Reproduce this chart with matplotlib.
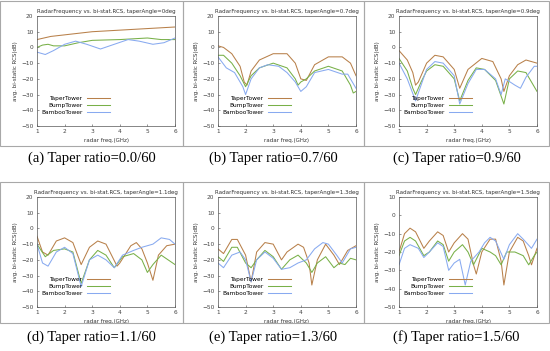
import matplotlib
matplotlib.use('Agg')
import matplotlib.pyplot as plt
from matplotlib.patches import Rectangle

# Data: (freq GHz, avg bi-static RCS dB) per tower ----------------------------
# (a) taperAngle=0deg
taper_a = ([1, 1.5, 2, 3, 4, 5, 6], [5, 7, 8, 10, 11, 12, 13])
bump_a = ([1, 1.2, 1.4, 1.6, 2, 2.5, 3, 4, 5, 5.5, 6], [0, 1.5, 2, 1, 1, 3, 4.5, 5, 6, 5, 5])
bamboo_a = ([1, 1.3, 1.6, 2, 2.4, 2.8, 3.3, 3.8, 4.3, 4.7, 5.2, 5.6, 6],
            [-3, -4.5, -2, 2, 4, 2, -1, 2, 5, 4, 2, 3, 6])

# (b) taperAngle=0.7deg
taper_b = ([1, 1.2, 1.5, 1.8, 1.95, 2.05, 2.2, 2.5, 3, 3.5, 3.8, 4.0, 4.2, 4.5, 5, 5.5, 5.8, 6],
           [1, 0, -4, -12, -22, -24, -15, -8, -4, -4, -10, -20, -21, -11, -6, -6, -10, -18])
bump_b = ([1, 1.2, 1.5, 1.8, 2.0, 2.2, 2.5, 3, 3.5, 3.8, 3.9, 4.0, 4.2, 4.5, 5, 5.5, 5.8, 5.9, 6],
          [-5, -5, -10, -18, -25, -18, -13, -10, -13, -20, -24, -22, -20, -15, -12, -15, -24, -29, -28])
bamboo_b = ([1, 1.3, 1.6, 1.9, 2.0, 2.2, 2.5, 2.8, 3.2, 3.5, 3.8, 4.0, 4.2, 4.5, 5, 5.5, 5.7, 6],
            [-6, -13, -16, -25, -30, -20, -13, -11, -12, -16, -22, -28, -25, -16, -14, -17, -17, -26])

# (c) taperAngle=0.9deg
taper_c = ([1, 1.3, 1.5, 1.6, 1.7, 2, 2.3, 2.6, 3, 3.2, 3.5, 4, 4.4, 4.7, 4.8, 5, 5.3, 5.6, 6],
           [-2, -8, -16, -24, -22, -10, -5, -6, -14, -26, -14, -7, -9, -20, -28, -18, -11, -8, -10])
bump_c = ([1, 1.3, 1.5, 1.6, 1.8, 2, 2.3, 2.6, 3, 3.2, 3.5, 3.8, 4.1, 4.5, 4.8, 5, 5.3, 5.6, 6],
          [-7, -15, -26, -30, -22, -15, -11, -12, -20, -34, -21, -13, -14, -21, -36, -20, -15, -16, -28])
bamboo_c = ([1, 1.3, 1.6, 1.8, 2, 2.3, 2.6, 3, 3.2, 3.5, 3.8, 4.1, 4.5, 4.7, 4.85, 5.2, 5.4, 5.6, 5.9, 6],
            [-10, -20, -34, -24, -14, -9, -10, -18, -36, -23, -14, -14, -20, -30, -20, -24, -26, -19, -12, -12])

# (d) taperAngle=1.1deg
taper_d = ([1, 1.2, 1.4, 1.7, 2, 2.3, 2.6, 2.9, 3.2, 3.5, 3.9, 4.0, 4.4, 4.6, 4.8, 5.0, 5.2, 5.4, 5.7, 6],
           [-5, -15, -17, -8, -6, -9, -23, -12, -8, -10, -24, -22, -11, -9, -13, -22, -33, -17, -11, -10])
bump_d = ([1, 1.3, 1.6, 2, 2.3, 2.6, 2.9, 3.2, 3.5, 3.8, 4.1, 4.5, 4.8, 5.0, 5.2, 5.5, 6],
          [-10, -18, -14, -13, -15, -35, -20, -14, -17, -25, -18, -16, -20, -28, -23, -17, -23])
bamboo_d = ([1, 1.2, 1.4, 1.7, 2, 2.3, 2.6, 2.9, 3.2, 3.5, 3.8, 4.1, 4.5, 4.8, 5.2, 5.5, 5.8, 6],
            [-10, -22, -24, -15, -12, -16, -37, -20, -17, -20, -25, -17, -14, -12, -10, -6, -7, -10])

# (e) taperAngle=1.3deg
taper_e = ([1, 1.2, 1.5, 1.7, 2, 2.2, 2.4, 2.7, 3, 3.3, 3.5, 3.9, 4.1, 4.3, 4.4, 4.6, 4.9, 5.2, 5.4, 5.7, 6],
           [-13, -16, -7, -7, -17, -34, -15, -9, -10, -20, -15, -10, -12, -22, -36, -20, -10, -17, -23, -14, -11])
bump_e = ([1, 1.2, 1.5, 1.7, 2, 2.2, 2.4, 2.7, 3.0, 3.3, 3.6, 3.9, 4.2, 4.4, 4.6, 4.9, 5.2, 5.4, 5.6, 5.8, 6],
          [-18, -21, -12, -12, -22, -25, -20, -14, -18, -26, -20, -17, -22, -28, -22, -18, -25, -22, -23, -19, -20])
bamboo_e = ([1, 1.2, 1.5, 1.8, 2, 2.2, 2.4, 2.7, 3.0, 3.3, 3.6, 3.9, 4.2, 4.5, 4.8, 5.0, 5.3, 5.5, 5.8, 6],
            [-22, -25, -17, -15, -20, -34, -20, -15, -19, -26, -25, -22, -20, -13, -9, -10, -17, -22, -13, -12])

# (f) taperAngle=1.5deg
taper_f = ([1, 1.2, 1.4, 1.6, 1.9, 2.1, 2.4, 2.6, 2.8, 3.0, 3.3, 3.5, 3.7, 3.8, 4.0, 4.3, 4.5, 4.7, 4.8, 5.0, 5.3, 5.5, 5.7, 5.8, 6],
           [-20, -10, -7, -9, -18, -14, -9, -11, -20, -15, -10, -13, -27, -32, -20, -13, -13, -25, -38, -20, -12, -14, -22, -27, -18])
bump_f = ([1, 1.2, 1.4, 1.6, 1.9, 2.1, 2.4, 2.6, 2.8, 3.0, 3.3, 3.5, 3.7, 4.0, 4.3, 4.5, 4.7, 4.9, 5.2, 5.5, 5.7, 5.9, 6],
          [-22, -14, -12, -14, -22, -20, -14, -16, -25, -20, -16, -20, -27, -18, -20, -22, -27, -20, -20, -22, -27, -22, -20])
bamboo_f = ([1, 1.2, 1.4, 1.7, 1.9, 2.1, 2.4, 2.6, 2.8, 3.0, 3.2, 3.4, 3.6, 3.9, 4.1, 4.3, 4.5, 4.8, 5.0, 5.3, 5.5, 5.8, 6],
            [-27, -18, -16, -18, -23, -20, -15, -17, -30, -26, -24, -38, -25, -20, -15, -12, -14, -24, -16, -10, -13, -18, -13])

angles = ['0', '0.7', '0.9', '1.1', '1.3', '1.5']
captions = ['(a) Taper ratio=0.0/60', '(b) Taper ratio=0.7/60', '(c) Taper ratio=0.9/60',
            '(d) Taper ratio=1.1/60', '(e) Taper ratio=1.3/60', '(f) Taper ratio=1.5/60']
ytops = [20, 20, 20, 20, 20, 10]
series = [(taper_a, bump_a, bamboo_a), (taper_b, bump_b, bamboo_b), (taper_c, bump_c, bamboo_c),
          (taper_d, bump_d, bamboo_d), (taper_e, bump_e, bamboo_e), (taper_f, bump_f, bamboo_f)]
names = ['TaperTower', 'BumpTower', 'BambooTower']
colors = ['#b8804a', '#78b048', '#88aaf0']

# Layout (pixels) -------------------------------------------------------------
W, H = 550, 351
fig = plt.figure(figsize=(W / 100, H / 100), dpi=100)
box_x = [(0, 183), (183, 364), (364, 549)]
box_y = [(1, 146), (182, 323)]
ax_x = [(37, 175), (218, 356), (399, 537)]
ax_y = [(16, 126), (197, 307)]
cap_y = [158, 337]

def px(x0, y0, x1, y1):
    return [x0 / W, 1 - y1 / H, (x1 - x0) / W, (y1 - y0) / H]

for i in range(6):
    r, c = divmod(i, 3)
    # gray screenshot frame
    bx0, bx1 = box_x[c]
    by0, by1 = box_y[r]
    fig.patches.append(Rectangle((bx0 / W, 1 - by1 / H), (bx1 - bx0) / W, (by1 - by0) / H,
                                 transform=fig.transFigure, fill=False, ec='#a8a8a8', lw=0.8))
    ax = fig.add_axes(px(ax_x[c][0], ax_y[r][0], ax_x[c][1], ax_y[r][1]))
    for (xs, ys), nm, col in zip(series[i], names, colors):
        ax.plot(xs, ys, color=col, lw=0.75, label=nm)
    ax.set_xlim(1, 6)
    ax.set_ylim(-50, ytops[i])
    ax.set_xticks(range(1, 7))
    ax.set_yticks(range(-50, ytops[i] + 1, 10))
    ax.tick_params(labelsize=4.2, length=1.5, width=0.4, pad=2.5, colors='#444444', direction='in')
    for s in ax.spines.values():
        s.set_linewidth(0.5)
        s.set_color('#555555')
    ax.set_title('RadarFrequency vs. bi-stat.RCS, taperAngle=' + angles[i] + 'deg',
                 fontsize=4, pad=2, color='#333333')
    ax.set_xlabel('radar freq.(GHz)', fontsize=4, labelpad=2.5, color='#333333')
    ax.set_ylabel('avg. bi-static RCS(dB)', fontsize=4, labelpad=2, color='#333333')
    ax.legend(loc='lower left', bbox_to_anchor=(0.0, 0.06), frameon=False, fontsize=4.2,
              markerfirst=False, handlelength=4, labelspacing=0.35, borderaxespad=0.3,
              handletextpad=0.8)
    fig.text((bx0 + bx1) / 2 / W, 1 - cap_y[r] / H, captions[i], ha='center', va='center',
             fontsize=10.5, family='Liberation Serif')

fig.savefig('out.png', dpi=100)
